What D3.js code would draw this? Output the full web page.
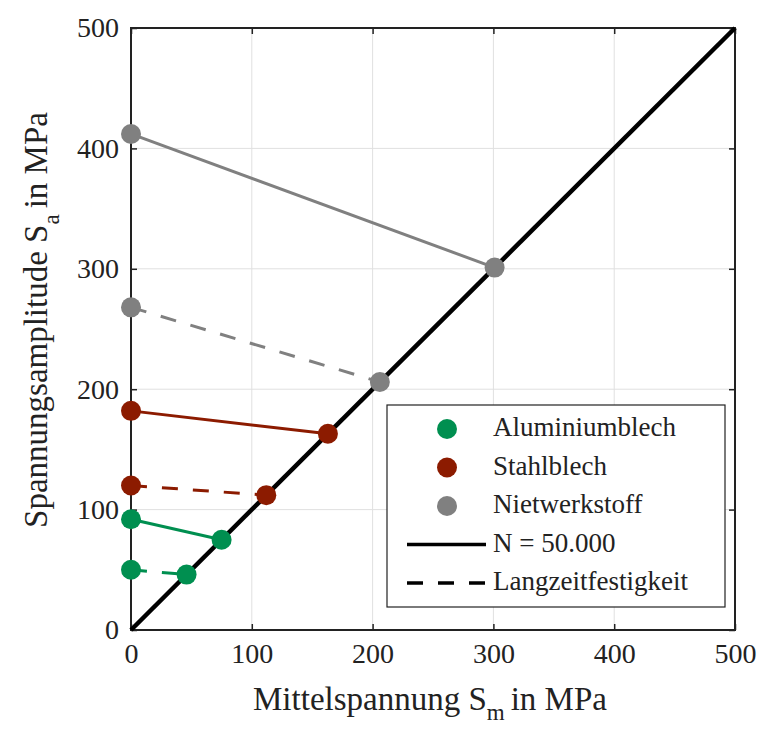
<!DOCTYPE html>
<html>
<head>
<meta charset="utf-8">
<script src="https://cdn.jsdelivr.net/npm/d3@7"></script>
<style>
  body { margin: 0; background: #fff; }
  text { font-family: "Liberation Serif", "DejaVu Serif", serif; fill: #222; }
</style>
</head>
<body>
<div id="chart"></div>
<script>
// Haigh diagram values (MPa)
const materials = ["Aluminiumblech", "Stahlblech", "Nietwerkstoff"];
const colors = ["#008f50", "#8c1b00", "#808080"];
// N = 50.000: amplitude at Sm = 0 and the point on the diagonal
const saZeroN = [92, 182, 412];
const smDiagN = [75, 163, 301];
// Langzeitfestigkeit
const saZeroD = [50, 120, 268];
const smDiagD = [46, 112, 206];
const ticks = [0, 100, 200, 300, 400, 500];

const width = 758, height = 729;
const margin = { top: 28, right: 23, bottom: 99, left: 131 };
const w = width - margin.left - margin.right;
const h = height - margin.top - margin.bottom;

const svg = d3.select("#chart").append("svg")
  .attr("width", width)
  .attr("height", height);

const g = svg.append("g")
  .attr("transform", `translate(${margin.left},${margin.top})`);

const x = d3.scaleLinear().domain([0, 500]).range([0, w]);
const y = d3.scaleLinear().domain([0, 500]).range([h, 0]);

// grid
g.append("g").selectAll("line.gx").data(ticks.slice(1, -1)).join("line")
  .attr("x1", d => x(d)).attr("x2", d => x(d))
  .attr("y1", 0).attr("y2", h)
  .attr("stroke", "#e0e0e0").attr("stroke-width", 1);
g.append("g").selectAll("line.gy").data(ticks.slice(1, -1)).join("line")
  .attr("y1", d => y(d)).attr("y2", d => y(d))
  .attr("x1", 0).attr("x2", w)
  .attr("stroke", "#e0e0e0").attr("stroke-width", 1);

// axes, ticks pointing inwards
const styleAxis = sel => {
  sel.select(".domain").remove();
  sel.selectAll(".tick line").attr("stroke", "#222").attr("stroke-width", 1.5);
  sel.selectAll(".tick text").style("font-size", "28px").attr("fill", "#222");
};

g.append("g").attr("transform", `translate(0,${h})`)
  .call(d3.axisBottom(x).tickValues(ticks).tickSize(-6).tickPadding(13).tickFormat(d3.format("d")))
  .call(styleAxis);
g.append("g")
  .call(d3.axisLeft(y).tickValues(ticks).tickSize(-6).tickPadding(12).tickFormat(d3.format("d")))
  .call(styleAxis);
g.append("g")
  .call(d3.axisTop(x).tickValues(ticks).tickSize(-6).tickFormat(""))
  .call(styleAxis);
g.append("g").attr("transform", `translate(${w},0)`)
  .call(d3.axisRight(y).tickValues(ticks).tickSize(-6).tickFormat(""))
  .call(styleAxis);

g.append("rect")
  .attr("width", w).attr("height", h)
  .attr("fill", "none").attr("stroke", "#222").attr("stroke-width", 2);

// diagonal Sa = Sm
g.append("line")
  .attr("x1", x(0)).attr("y1", y(0))
  .attr("x2", x(500)).attr("y2", y(500))
  .attr("stroke", "#000").attr("stroke-width", 4.5);

const dash = "16,15";

materials.forEach((m, i) => {
  g.append("line")
    .attr("x1", x(0)).attr("y1", y(saZeroN[i]))
    .attr("x2", x(smDiagN[i])).attr("y2", y(smDiagN[i]))
    .attr("stroke", colors[i]).attr("stroke-width", 3);
  g.append("line")
    .attr("x1", x(0)).attr("y1", y(saZeroD[i]))
    .attr("x2", x(smDiagD[i])).attr("y2", y(smDiagD[i]))
    .attr("stroke", colors[i]).attr("stroke-width", 3)
    .attr("stroke-dasharray", dash);

  const pts = [[0, saZeroN[i]], [smDiagN[i], smDiagN[i]], [0, saZeroD[i]], [smDiagD[i], smDiagD[i]]];
  g.selectAll(null).data(pts).join("circle")
    .attr("cx", d => x(d[0])).attr("cy", d => y(d[1]))
    .attr("r", 10)
    .attr("fill", colors[i]);
});

// axis labels
svg.append("text")
  .attr("x", 430).attr("y", 710)
  .attr("text-anchor", "middle")
  .style("font-size", "33px")
  .html('Mittelspannung S<tspan dy="10" font-size="23px">m</tspan><tspan dy="-10" dx="6">in MPa</tspan>');

svg.append("text")
  .attr("transform", "translate(47,320) rotate(-90)")
  .attr("text-anchor", "middle")
  .style("font-size", "33px")
  .html('Spannungsamplitude S<tspan dy="12" font-size="23px">a</tspan><tspan dy="-12" dx="6">in MPa</tspan>');

// legend
const lg = svg.append("g");
lg.append("rect")
  .attr("x", 387).attr("y", 405).attr("width", 338).attr("height", 202)
  .attr("fill", "#fff").attr("stroke", "#222").attr("stroke-width", 1.2);

const legendItems = materials.map((m, i) => ({ label: m, color: colors[i], type: "dot" }))
  .concat([{ label: "N = 50.000", type: "solid" }, { label: "Langzeitfestigkeit", type: "dash" }]);

legendItems.forEach((d, i) => {
  const yy = 429 + i * 38.5;
  if (d.type === "dot") {
    lg.append("circle").attr("cx", 447).attr("cy", yy).attr("r", 10).attr("fill", d.color);
  } else {
    lg.append("line")
      .attr("x1", 407).attr("x2", 486).attr("y1", yy).attr("y2", yy)
      .attr("stroke", "#000").attr("stroke-width", 3.5)
      .attr("stroke-dasharray", d.type === "dash" ? dash : null);
  }
  lg.append("text")
    .attr("x", 493).attr("y", yy + 7)
    .style("font-size", "27px")
    .text(d.label);
});
</script>
</body>
</html>
